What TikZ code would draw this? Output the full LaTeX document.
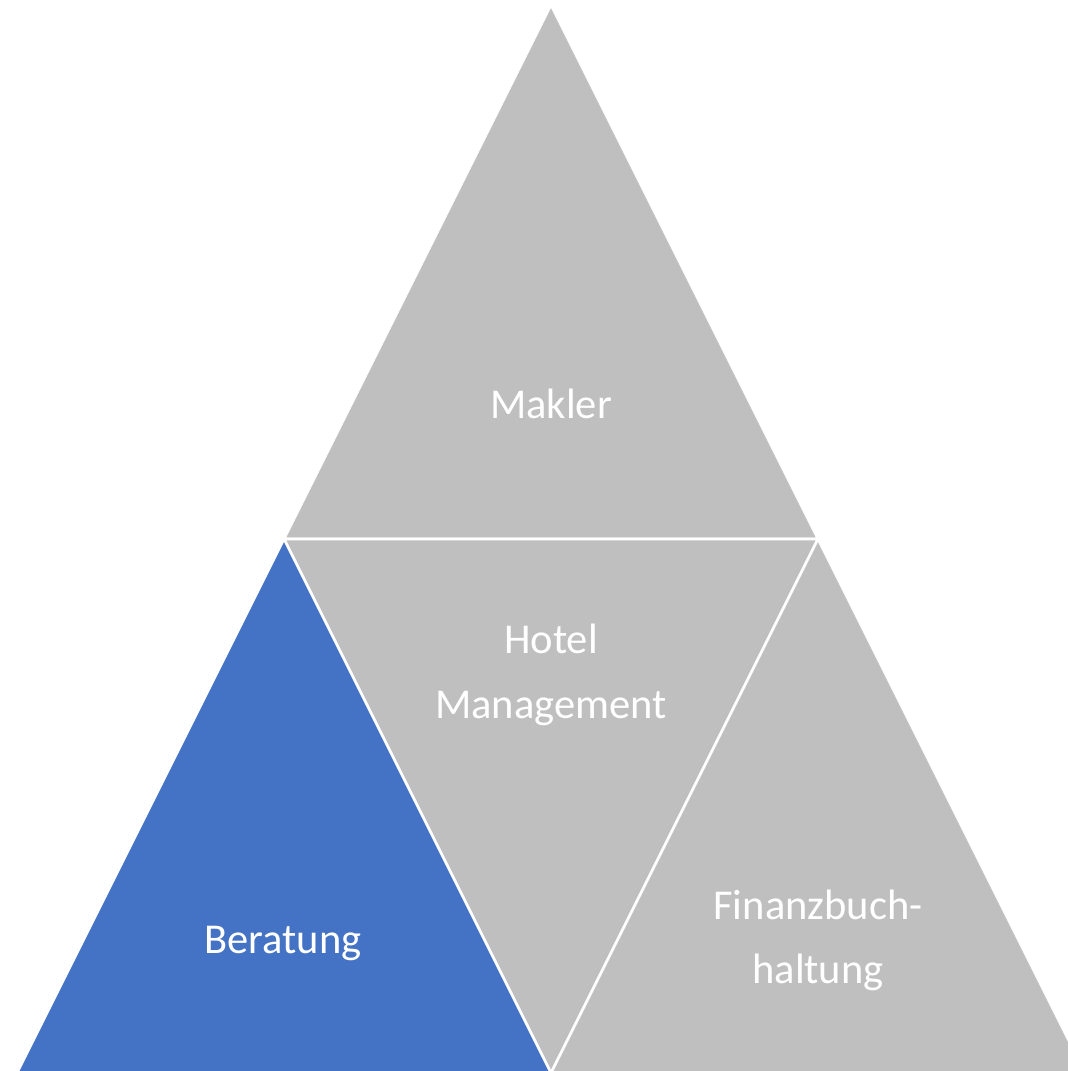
\documentclass[tikz,border=0pt]{standalone}
\usepackage{fontspec}
\setmainfont{Carlito}
\definecolor{tgray}{HTML}{BFBFBF}
\definecolor{tblue}{HTML}{4472C4}
\tikzset{
  tri/.style={draw=white, line width=2.6pt, line join=miter},
  lbl/.style={text=white, anchor=base, inner sep=0pt, font=\fontsize{42.5}{50}\selectfont}
}
\begin{document}
\begin{tikzpicture}[x=1pt,y=-1pt]
\useasboundingbox (0,0) rectangle (1068,1071);
\clip (0,0) rectangle (1068,1071);
\fill[white] (0,0) rectangle (1068,1071);
% top
\filldraw[tri, fill=tgray] (551,5) -- (284,539) -- (818,539) -- cycle;
% middle inverted
\filldraw[tri, fill=tgray] (284,539) -- (818,539) -- (551,1073) -- cycle;
% left blue
\filldraw[tri, fill=tblue] (284,539) -- (17,1073) -- (551,1073) -- cycle;
% right
\filldraw[tri, fill=tgray] (818,539) -- (551,1073) -- (1085,1073) -- cycle;
\node[lbl] (makler) at (551,418) {Makler};
\node[lbl] (hotel) at (551,653) {Hotel};
\node[lbl] (mgmt) at (551,718) {Management};
\node[lbl] (beratung) at (283,953) {Beratung};
\node[lbl] (finanz) at (818,919) {Finanzbuch-};
\node[lbl] (haltung) at (818,983) {haltung};
\end{tikzpicture}
\end{document}
